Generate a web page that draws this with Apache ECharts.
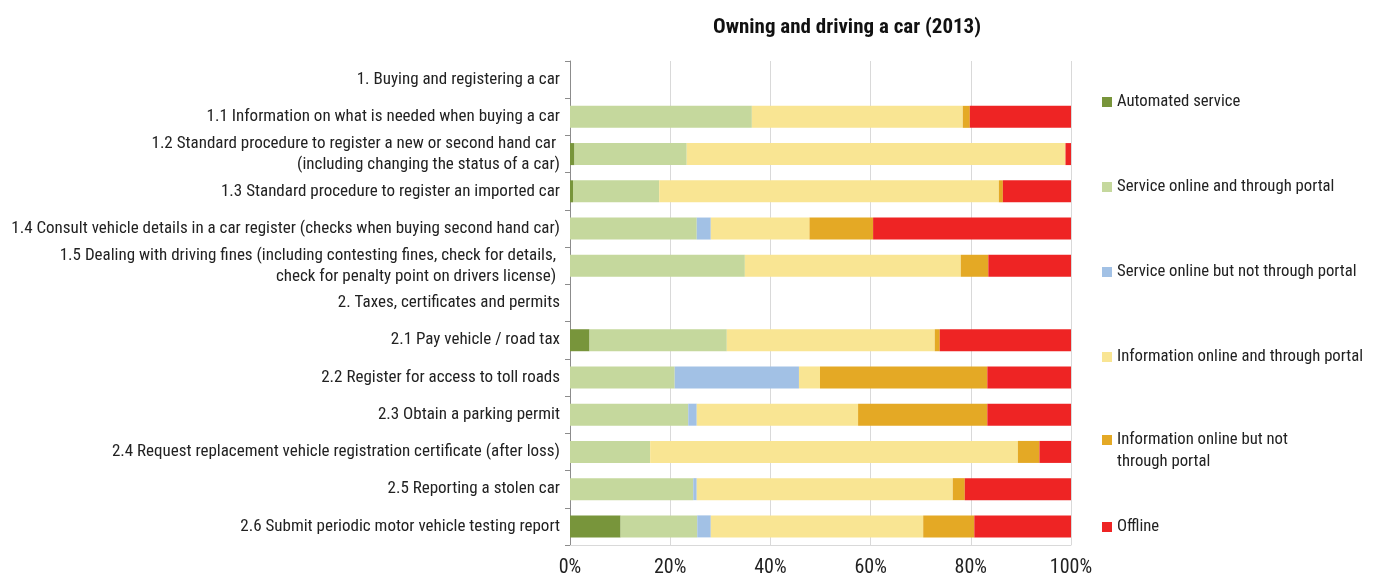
<!DOCTYPE html>
<html>
<head>
<meta charset="utf-8">
<script src="https://cdn.jsdelivr.net/npm/echarts@6/dist/echarts.min.js"></script>
<style>
  html, body { margin: 0; padding: 0; background: #fff; }
  #chart { width: 1379px; height: 578px; }
</style>
</head>
<body>
<div id="chart"></div>
<script>
// Service categories (top to bottom); section headers carry no data
const categories = [
  '1. Buying and registering a car',
  '1.1 Information on what is needed when buying a car',
  '1.2 Standard procedure to register a new or second hand car \n(including changing the status of a car)',
  '1.3 Standard procedure to register an imported car',
  '1.4 Consult vehicle details in a car register (checks when buying second hand car)',
  '1.5 Dealing with driving fines (including contesting fines, check for details, \ncheck for penalty point on drivers license) ',
  '2. Taxes, certificates and permits',
  '2.1 Pay vehicle / road tax',
  '2.2 Register for access to toll roads',
  '2.3 Obtain a parking permit',
  '2.4 Request replacement vehicle registration certificate (after loss)',
  '2.5 Reporting a stolen car',
  '2.6 Submit periodic motor vehicle testing report'
];

// Share of each delivery type (%), one value per category
const automatedService        = [null, 0,    0.9,  0.6,  0,    0,    null, 3.9,  0,    0,    0,    0,    10.1];
const serviceOnlinePortal     = [null, 36.3, 22.4, 17.2, 25.3, 34.9, null, 27.4, 20.9, 23.6, 16.0, 24.6, 15.3];
const serviceOnlineNoPortal   = [null, 0,    0,    0,    2.8,  0,    null, 0,    24.8, 1.7,  0,    0.7,  2.7];
const infoOnlinePortal        = [null, 42.1, 75.6, 67.8, 19.7, 43.1, null, 41.5, 4.2,  32.2, 73.4, 51.1, 42.4];
const infoOnlineNoPortal      = [null, 1.4,  0,    0.8,  12.7, 5.5,  null, 1.0,  33.4, 25.8, 4.3,  2.4,  10.2];
const offline                 = [null, 20.2, 1.1,  13.6, 39.5, 16.5, null, 26.2, 16.7, 16.7, 6.3,  21.2, 19.3];

const xTicks = [0, 20, 40, 60, 80, 100];

const seriesDefs = [
  { name: 'Automated service',                     data: automatedService,      color: '#78953B' },
  { name: 'Service online and through portal',     data: serviceOnlinePortal,   color: '#C5D89D' },
  { name: 'Service online but not through portal', data: serviceOnlineNoPortal, color: '#A2C1E5' },
  { name: 'Information online and through portal', data: infoOnlinePortal,      color: '#F9E593' },
  { name: 'Information online but not through portal', data: infoOnlineNoPortal, color: '#E4A925' },
  { name: 'Offline',                               data: offline,               color: '#EE2424' }
];

const FONT = '"Liberation Sans Narrow", "Arial Narrow", "Roboto Condensed", "Liberation Sans", sans-serif';

// One legend block per series so each entry sits at its own height
const legendCenters = [100, 185, 270, 355, 440, 525];
const legends = seriesDefs.map((s, i) => {
  const twoLine = i === 4;
  return {
    orient: 'vertical',
    left: 1102,
    top: twoLine ? legendCenters[i] - 33 : legendCenters[i] - 9,
    icon: 'rect',
    itemWidth: 10,
    itemHeight: 10,
    itemGap: 0,
    padding: 0,
    selectedMode: false,
    data: [s.name],
    // a blank leading line keeps the icon level with the first text line
    formatter: twoLine ? ' \nInformation online but not\nthrough portal' : '{name}',
    textStyle: {
      fontFamily: FONT,
      fontSize: 16.7,
      color: '#222',
      lineHeight: 22
    }
  };
});

const chart = echarts.init(document.getElementById('chart'), null, { renderer: 'canvas' });
chart.setOption({
  animation: false,
  backgroundColor: '#fff',
  title: {
    text: 'Owning and driving a car (2013)',
    left: 842,
    top: 12,
    textAlign: 'center',
    textStyle: { fontFamily: FONT, fontSize: 21, fontWeight: 'bold', color: '#111' }
  },
  legend: legends,
  grid: { left: 570, right: 308, top: 61, bottom: 27, containLabel: false },
  xAxis: {
    type: 'value',
    min: 0,
    max: 100,
    interval: 20,
    axisLine: { show: true, lineStyle: { color: '#D9D9D9', width: 1 } },
    axisTick: { show: false },
    splitLine: { show: true, lineStyle: { color: '#D9D9D9', width: 1 } },
    axisLabel: {
      fontFamily: FONT,
      fontSize: 20,
      color: '#222',
      margin: 13,
      formatter: v => (xTicks.includes(v) ? v + '%' : '')
    }
  },
  yAxis: {
    type: 'category',
    inverse: true,
    data: categories,
    axisLine: { show: true, lineStyle: { color: '#8C8C8C', width: 1 } },
    axisTick: { show: true, length: 5, lineStyle: { color: '#8C8C8C' } },
    axisLabel: {
      fontFamily: FONT,
      fontSize: 17,
      color: '#222',
      margin: 10,
      lineHeight: 21,
      align: 'right'
    }
  },
  series: seriesDefs.map(s => ({
    name: s.name,
    type: 'bar',
    stack: 'total',
    barWidth: 22,
    data: s.data,
    itemStyle: { color: s.color },
    emphasis: { disabled: true }
  }))
});
</script>
</body>
</html>
